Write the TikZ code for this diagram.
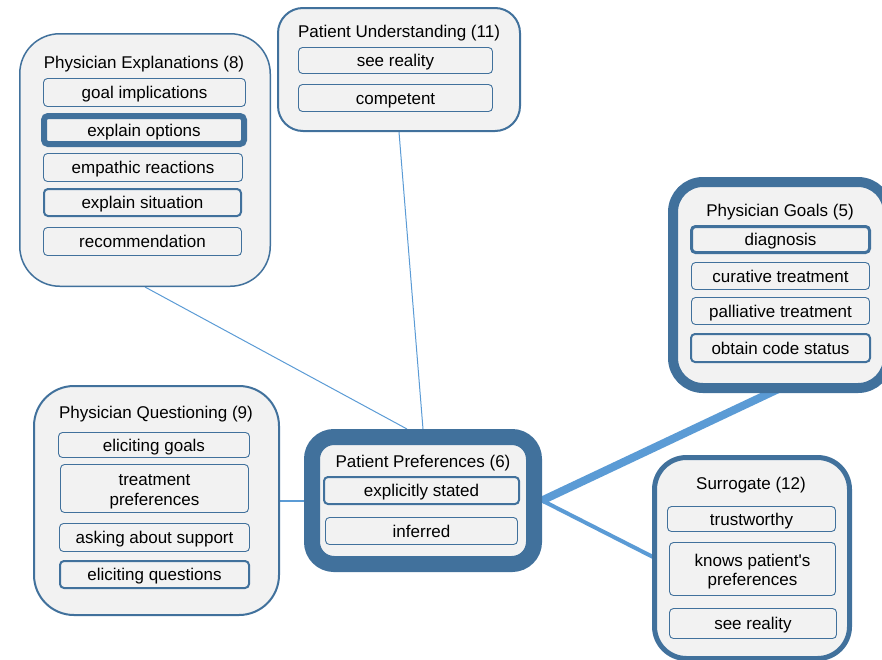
\documentclass[tikz,border=0pt]{standalone}
\usepackage{fontspec}
\setmainfont{Liberation Sans}
\usepackage{tikz}
\usetikzlibrary{positioning, backgrounds}
\usepackage{xcolor}
\definecolor{boxblue}{HTML}{41719C}
\definecolor{boxgray}{HTML}{F2F2F2}
\definecolor{linkblue}{HTML}{5B9BD5}

\newcommand{\uplift}{\rule{0pt}{18pt}}

\tikzset{
  group/.style={draw=boxblue, fill=boxgray, inner sep=0pt},
  title/.style={font=\fontsize{17}{20}\selectfont, text height=14.3pt, text depth=1.6pt},
  item/.style={draw=boxblue, fill=boxgray, rounded corners=4pt, line width=0.9pt,
    inner sep=0pt, align=center, font=\fontsize{17}{19.5}\selectfont,
    text height=14.3pt, text depth=1.6pt},
  twoline/.style={text height=, text depth=},
  link/.style={draw=linkblue}
}

\begin{document}
\begin{tikzpicture}[x=1pt, y=-1pt]
\useasboundingbox (0,0) rectangle (882,659);

% group boxes
\node (PE) [group, line width=1.5pt, rounded corners=40pt, minimum width=250.5pt, minimum height=252.5pt] at (145,160) {};
\node (PU) [group, line width=2pt, rounded corners=25pt, minimum width=242pt, minimum height=123pt] at (399,69.5) {};
\node (PQ) [group, line width=2pt, rounded corners=40pt, minimum width=245pt, minimum height=229pt] at (156.5,500.5) {};
\node (PG) [group, line width=10pt, rounded corners=30pt, minimum width=215pt, minimum height=206pt] at (780.5,285) {};
\node (PP) [group, line width=16pt, rounded corners=22pt, minimum width=222pt, minimum height=127pt] at (423,500.5) {};
\node (S) [group, line width=5pt, rounded corners=32pt, minimum width=195pt, minimum height=201pt] at (752,558) {};

% Physician Explanations
\node (PEtitle) [title] at (144,62) {Physician Explanations (8)};
\node (PEgoal) [item, minimum width=202pt, minimum height=28pt] at (144.5,92.5) {goal implications};
\node (PEopt) [item, line width=6pt, minimum width=200pt, minimum height=28pt] at (144,130) {explain options};
\node (PEemp) [item, minimum width=199pt, minimum height=28pt] at (143,167.5) {empathic reactions};
\node (PEsit) [item, line width=2pt, minimum width=197pt, minimum height=27pt] at (142.5,202.5) {explain situation};
\node (PErec) [item, minimum width=198pt, minimum height=28pt] at (142.5,241.5) {recommendation};

% Patient Understanding
\node (PUtitle) [title] at (399,31) {Patient Understanding (11)};
\node (PUreal) [item, minimum width=194pt, minimum height=26pt] at (395.5,60.5) {see reality};
\node (PUcomp) [item, minimum width=194pt, minimum height=27pt] at (395.5,98) {competent};

% Physician Questioning
\node (PQtitle) [title] at (156,412) {Physician Questioning (9)};
\node (PQgoal) [item, minimum width=191pt, minimum height=25pt] at (154,445) {eliciting goals};
\node (PQpref) [item, twoline, minimum width=188pt, minimum height=48pt] at (154.5,488.5) {\uplift treatment\\preferences};
\node (PQsup) [item, minimum width=190pt, minimum height=28pt] at (154.5,537.5) {asking about support};
\node (PQques) [item, line width=2pt, minimum width=189pt, minimum height=27pt] at (154.5,574.5) {eliciting questions};

% Physician Goals
\node (PGtitle) [title] at (780,210) {Physician Goals (5)};
\node (PGdiag) [item, line width=3pt, minimum width=178pt, minimum height=26pt] at (780.5,239.5) {diagnosis};
\node (PGcur) [item, minimum width=178pt, minimum height=27pt] at (780.5,276) {curative treatment};
\node (PGpal) [item, minimum width=178pt, minimum height=27pt] at (780.5,311) {palliative treatment};
\node (PGcode) [item, line width=2pt, minimum width=179pt, minimum height=28pt] at (780.5,348) {obtain code status};

% Patient Preferences
\node (PPtitle) [title] at (423,461) {Patient Preferences (6)};
\node (PPexp) [item, line width=2pt, minimum width=195pt, minimum height=27pt] at (421.5,490.5) {explicitly stated};
\node (PPinf) [item, minimum width=192pt, minimum height=27pt] at (421.5,531) {inferred};

% Surrogate
\node (Stitle) [title] at (751,483) {Surrogate (12)};
\node (Strust) [item, minimum width=168pt, minimum height=25pt] at (751.5,519) {trustworthy};
\node (Sknow) [item, twoline, minimum width=166pt, minimum height=53pt] at (752.5,569) {\uplift knows patient\textquotesingle s\\preferences};
\node (Sreal) [item, minimum width=167pt, minimum height=30pt] at (753,623.5) {see reality};

% links
\begin{scope}[on background layer]
\draw[link, line width=1pt] (PE.south) -- ([xshift=-16pt]PP.north);
\draw[link, line width=1pt] (PU.south) -- (PP.north);
\draw[link, line width=2pt] (PQ.east) -- (PP.west);
\draw[link, line width=8pt] (PP.east) -- ([yshift=5pt]PG.south);
\draw[link, line width=4pt] (PP.east) -- ([xshift=3pt]S.west);
\end{scope}
\end{tikzpicture}
\end{document}
